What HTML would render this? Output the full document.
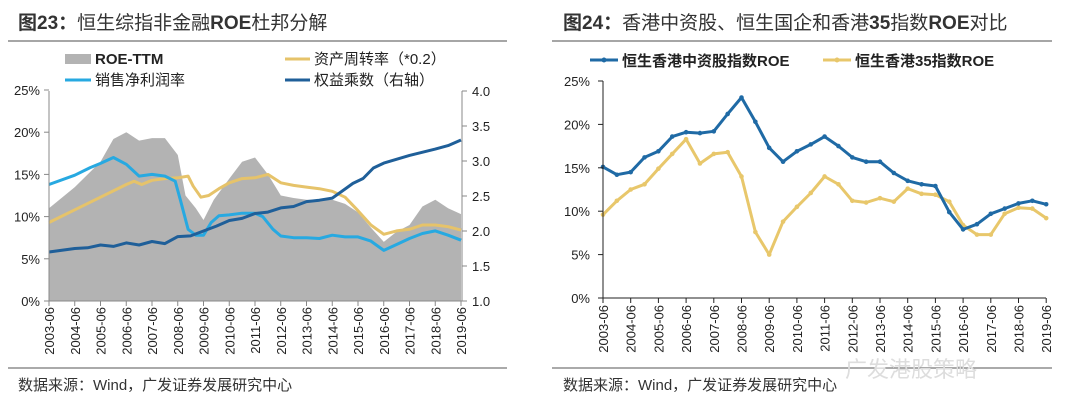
<!DOCTYPE html>
<html><head><meta charset="utf-8"><style>
body{margin:0;background:#fff;width:1080px;height:414px;overflow:hidden}
svg text{font-family:"Liberation Sans","Noto Sans CJK SC",sans-serif}
</style></head><body>
<svg id="s" width="1080" height="414" xmlns="http://www.w3.org/2000/svg">
<text x="18" y="29" font-size="19" fill="#333"><tspan font-weight="bold">图23：</tspan>恒生综指非金融<tspan font-weight="bold">ROE</tspan>杜邦分解</text>
<line x1="8" y1="41" x2="507" y2="41" stroke="#888" stroke-width="1.5"/>
<text x="563" y="29" font-size="19" fill="#333"><tspan font-weight="bold">图24：</tspan>香港中资股、恒生国企和香港<tspan font-weight="bold">35</tspan>指数<tspan font-weight="bold">ROE</tspan>对比</text>
<line x1="552" y1="41" x2="1052" y2="41" stroke="#888" stroke-width="1.5"/>
<line x1="8" y1="368" x2="507" y2="368" stroke="#555" stroke-width="1"/>
<line x1="552" y1="368" x2="1052" y2="368" stroke="#555" stroke-width="1"/>
<text x="18" y="390" font-size="15" fill="#333">数据来源：Wind，广发证券发展研究中心</text>
<text x="563" y="390" font-size="15" fill="#333">数据来源：Wind，广发证券发展研究中心</text>
<text x="845" y="377" font-size="22" fill="#ddd">广发港股策略</text>
<!-- left legend -->
<rect x="65" y="54" width="26" height="10" fill="#b3b3b3"/>
<text x="95" y="64" font-size="15" font-weight="bold" fill="#222">ROE-TTM</text>
<line x1="285" y1="59" x2="310" y2="59" stroke="#e6c36a" stroke-width="3"/>
<text x="314" y="64" font-size="15" fill="#222">资产周转率（*0.2）</text>
<line x1="65" y1="80" x2="91" y2="80" stroke="#27a9e1" stroke-width="3"/>
<text x="95" y="85" font-size="15" fill="#222">销售净利润率</text>
<line x1="285" y1="80" x2="310" y2="80" stroke="#1f5f99" stroke-width="3"/>
<text x="314" y="85" font-size="15" fill="#222">权益乘数（右轴）</text>
<!-- right legend -->
<line x1="590" y1="60" x2="618" y2="60" stroke="#1f6aa5" stroke-width="3"/><circle cx="604" cy="60" r="2.5" fill="#1f6aa5"/>
<text x="622" y="66" font-size="15" font-weight="bold" fill="#222">恒生香港中资股指数ROE</text>
<line x1="823" y1="60" x2="851" y2="60" stroke="#e8c76b" stroke-width="3"/><circle cx="837" cy="60" r="2.5" fill="#e8c76b"/>
<text x="855" y="66" font-size="15" font-weight="bold" fill="#222">恒生香港35指数ROE</text>
<g id="g"></g>
</svg>
<script>
var g=document.getElementById('g'),h='';
function P(arr,fx,fy){return arr.map(function(p){return fx(p[0]).toFixed(1)+','+fy(p[1]).toFixed(1)}).join(' ');}
// left chart
var lx=function(t){return 49+t*25.75},ly=function(v){return 301-v*8.44},ry=function(v){return 301-(v-1)*70};
var gray=[[0,11],[1,13.5],[2,16.5],[2.5,19.2],[3,20],[3.5,19],[4,19.3],[4.5,19.3],[5,17.3],[5.3,12.5],[5.7,11],[6,9.6],[6.4,12],[7,14.5],[7.5,16.5],[8,17],[8.5,15],[9,12.5],[9.5,12.2],[10,12],[10.5,12],[11,12],[11.5,11.5],[12,10.5],[12.5,8.7],[13,7],[13.5,8.2],[14,9],[14.5,11.2],[15,12],[15.5,11],[16,10.3]];
h+='<polygon fill="#b3b3b3" points="'+lx(0)+','+ly(0)+' '+P(gray,lx,ly)+' '+lx(16)+','+ly(0)+'"/>';
var nb=[[0,13.8],[1,14.9],[1.6,15.8],[2,16.3],[2.5,17],[3,16.2],[3.5,14.8],[4,15],[4.5,14.8],[4.9,14.2],[5.1,12],[5.4,8.5],[5.7,7.8],[6,7.8],[6.3,9.3],[6.6,10.1],[7,10.2],[7.5,10.4],[8,10.4],[8.3,10],[8.7,8.5],[9,7.7],[9.5,7.5],[10,7.5],[10.5,7.4],[11,7.8],[11.5,7.6],[12,7.6],[12.5,7.1],[13,6],[13.5,6.7],[14,7.4],[14.5,8],[15,8.3],[15.5,7.8],[16,7.2]];
var yl=[[0,9.3],[1,10.8],[2,12.3],[3,13.8],[3.3,14.2],[3.6,13.8],[4,14.3],[4.5,14.5],[5,14.6],[5.4,14.8],[5.6,13.6],[5.9,12.3],[6.2,12.5],[6.6,13.3],[7,14],[7.5,14.5],[8,14.6],[8.5,15],[9,14],[9.5,13.7],[10,13.5],[10.5,13.3],[11,13],[11.5,12.3],[12,10.7],[12.5,9],[13,7.9],[13.5,8.3],[14,8.5],[14.5,9],[15,9],[15.5,8.8],[16,8.4]];
var em=[[0,1.70],[1,1.75],[1.5,1.76],[2,1.80],[2.5,1.78],[3,1.83],[3.5,1.80],[4,1.85],[4.5,1.82],[5,1.92],[5.5,1.93],[6,2.0],[6.5,2.07],[7,2.15],[7.5,2.18],[8,2.25],[8.5,2.27],[9,2.33],[9.5,2.35],[10,2.42],[10.5,2.44],[11,2.47],[11.5,2.6],[11.8,2.68],[12.2,2.75],[12.6,2.9],[13,2.97],[14,3.08],[15,3.17],[15.5,3.22],[16,3.3]];
h+='<polyline fill="none" stroke="#e6c36a" stroke-width="3" stroke-linejoin="round" points="'+P(yl,lx,ly)+'"/>';
h+='<polyline fill="none" stroke="#27a9e1" stroke-width="3" stroke-linejoin="round" points="'+P(nb,lx,ly)+'"/>';
h+='<polyline fill="none" stroke="#1f5f99" stroke-width="3" stroke-linejoin="round" points="'+P(em,lx,ry)+'"/>';
h+='<line x1="49" y1="91" x2="49" y2="301" stroke="#888"/><line x1="49" y1="301" x2="462" y2="301" stroke="#888"/><line x1="462" y1="91" x2="462" y2="301" stroke="#888"/>';
for(var i=0;i<=5;i++){var y=301-i*42.2;h+='<line x1="44" x2="49" y1="'+y+'" y2="'+y+'" stroke="#888"/><text x="40" y="'+(y+5)+'" font-size="13" text-anchor="end" fill="#222">'+(i*5)+'%</text>';}
for(var i=0;i<=6;i++){var y=301-i*35;h+='<line x1="462" x2="467" y1="'+y+'" y2="'+y+'" stroke="#888"/><text x="472" y="'+(y+5)+'" font-size="13" fill="#222">'+(1+i*0.5).toFixed(1)+'</text>';}
for(var i=0;i<=16;i++){var x=lx(i);h+='<line x1="'+x+'" x2="'+x+'" y1="301" y2="306" stroke="#888"/><text transform="translate('+(x+5)+',307) rotate(-90)" font-size="13" text-anchor="end" fill="#222">'+(2003+i)+'-06</text>';}
// right chart
var rx=function(t){return 603+t*27.7},r2=function(v){return 298-v*8.68};
var B=[15.1,14.2,14.5,16.2,16.9,18.6,19.1,19.0,19.2,21.2,23.1,20.3,17.3,15.7,16.9,17.7,18.6,17.5,16.2,15.7,15.7,14.4,13.5,13.1,12.9,9.9,7.9,8.5,9.7,10.3,10.9,11.2,10.8];
var Y=[9.6,11.2,12.5,13.1,14.9,16.6,18.3,15.5,16.6,16.8,14.0,7.6,5.0,8.8,10.5,12.1,14.0,13.1,11.2,11.0,11.5,11.1,12.6,12.0,11.9,11.1,8.4,7.3,7.3,9.7,10.4,10.3,9.2];
function ser(a,c){var pts=a.map(function(v,i){return [i/2,v]});var s='<polyline fill="none" stroke="'+c+'" stroke-width="3" stroke-linejoin="round" points="'+P(pts,rx,r2)+'"/>';pts.forEach(function(p){s+='<circle cx="'+rx(p[0])+'" cy="'+r2(p[1])+'" r="2.3" fill="'+c+'"/>'});return s;}
h+=ser(Y,'#e8c76b');h+=ser(B,'#1f6aa5');
h+='<line x1="603" y1="81" x2="603" y2="298" stroke="#222"/><line x1="603" y1="298" x2="1046" y2="298" stroke="#222"/>';
for(var i=0;i<=5;i++){var y=298-i*43.4;h+='<line x1="598" x2="603" y1="'+y+'" y2="'+y+'" stroke="#222"/><text x="590" y="'+(y+5)+'" font-size="13" text-anchor="end" fill="#222">'+(i*5)+'%</text>';}
for(var i=0;i<=16;i++){var x=rx(i);h+='<line x1="'+x+'" x2="'+x+'" y1="298" y2="303" stroke="#222"/><text transform="translate('+(x+5)+',305) rotate(-90)" font-size="13" text-anchor="end" fill="#222">'+(2003+i)+'-06</text>';}
g.innerHTML=h;
</script>
</body></html>
